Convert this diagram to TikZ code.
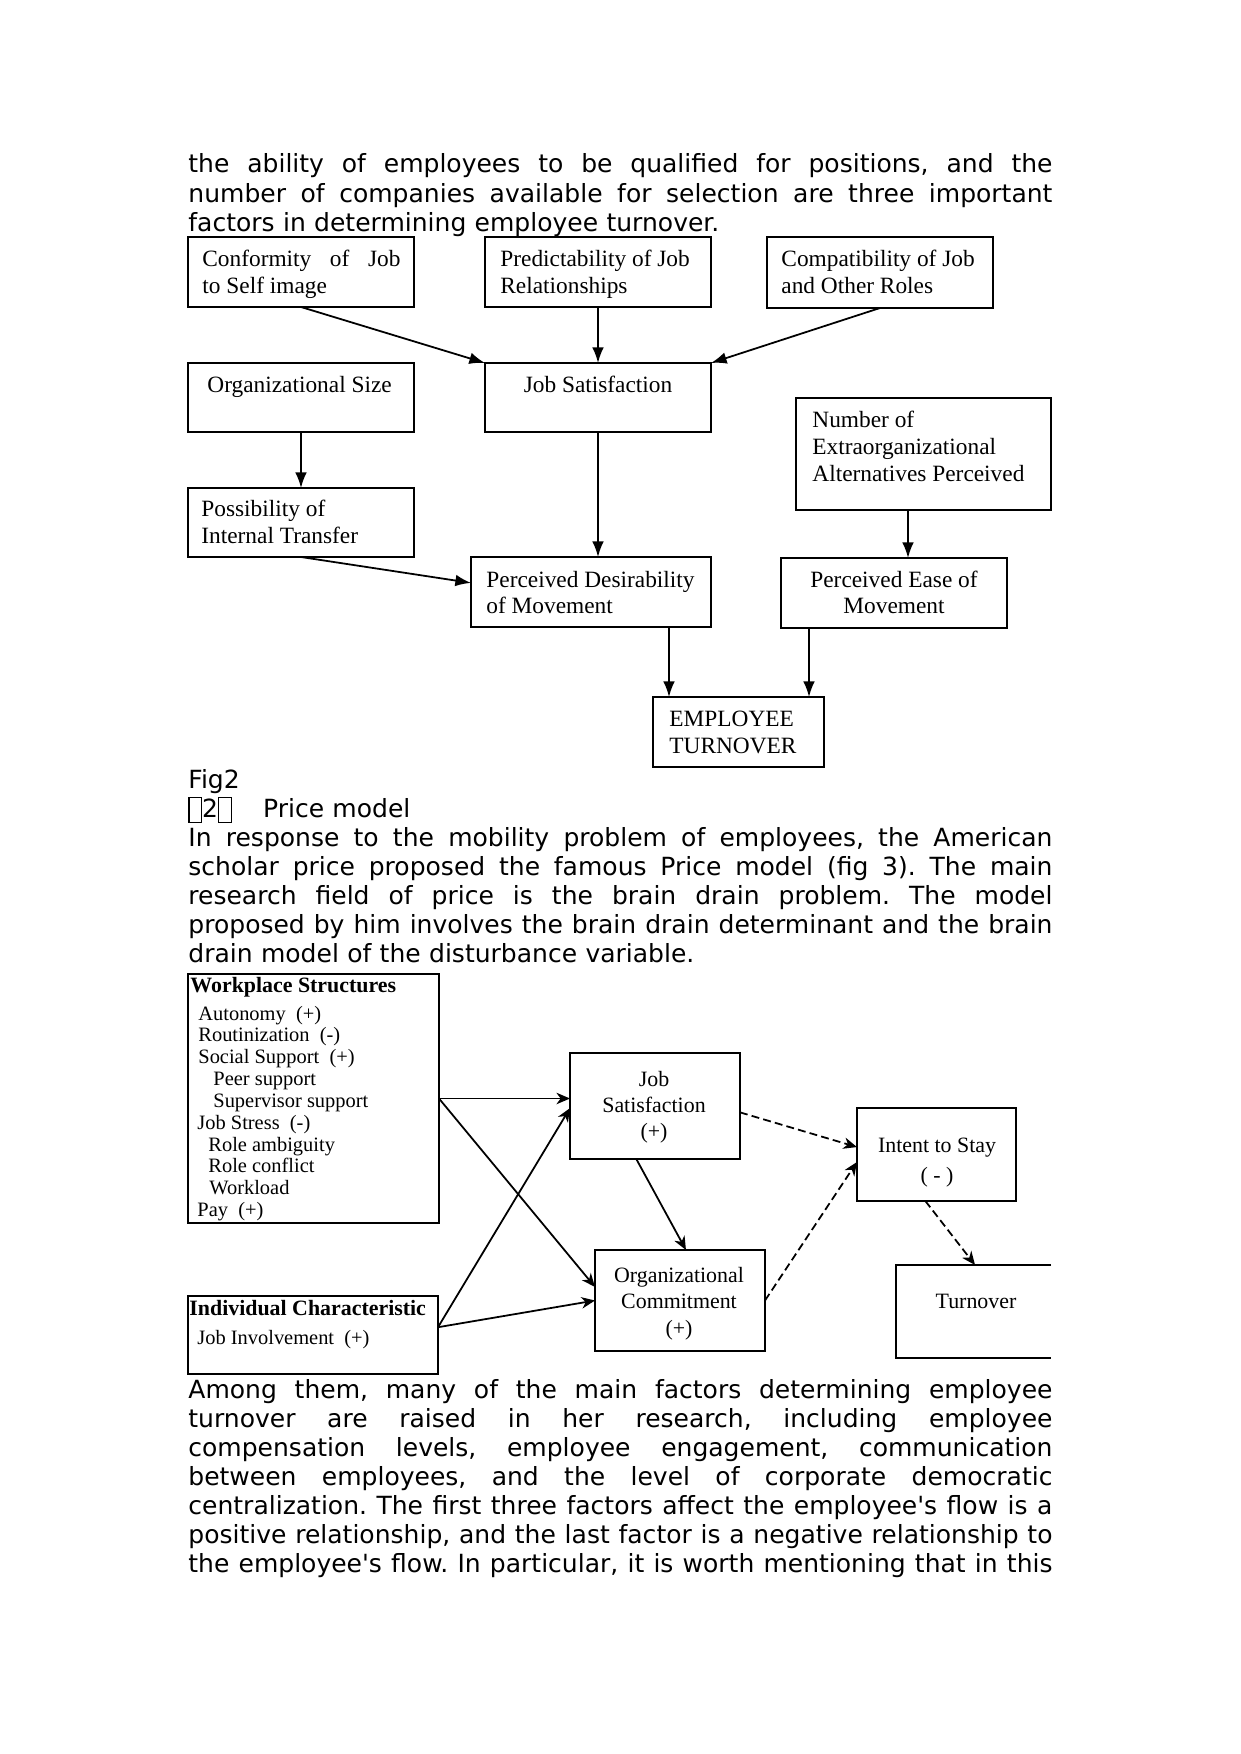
\documentclass[tikz,border=0pt]{standalone}
\usepackage{fontspec}
\setmainfont{DejaVu Sans}
\newfontfamily\tms{Liberation Serif}
\usetikzlibrary{arrows.meta,calc}
\newcommand\tofubox{{\setlength{\fboxsep}{0pt}\setlength{\fboxrule}{0.6pt}\raisebox{-0.18em}{\fbox{\rule{0pt}{0.95em}\hspace{0.45em}}}}}
\newcommand\aps{\textquotesingle}
\newcommand\jl[1]{\leavevmode\hbox to 414.5pt{\spaceskip=0.318em plus 2em minus 0.05em\xspaceskip=\spaceskip #1}}
\newcommand\mkbox[6][bx]{\node[#1,anchor=north west,minimum width={(#5-#3)*0.4797pt},minimum height={(#6-#4)*0.4797pt}] (#2) at (#3,#4) {};}
\frenchspacing
\begin{document}
\begin{tikzpicture}[x=0.4797pt,y=-0.4797pt,
  bx/.style={draw, line width=0.95pt, inner sep=0pt, outer sep=0pt},
  bxb/.style={draw, line width=1.1pt, inner sep=0pt, outer sep=0pt},
  bxn/.style={inner sep=0pt, outer sep=0pt},
  body/.style={inner sep=0pt, anchor=base west, text width=414.5pt, font=\fontsize{12}{13.95}\selectfont\frenchspacing},
  fa/.style={inner sep=0pt, anchor=base west, font=\tms\fontsize{11.2}{13}\selectfont},
  fac/.style={fa, anchor=base},
  fb/.style={inner sep=0pt, anchor=base, font=\tms\fontsize{10.5}{12.5}\selectfont},
  fc/.style={inner sep=0pt, anchor=base west, font=\tms\fontsize{9.8}{10.5}\selectfont},
  fh/.style={inner sep=0pt, anchor=base west, font=\tms\bfseries\fontsize{10.5}{12.5}\selectfont},
  ar/.style={line width=0.85pt, -{Latex[length=7.5pt,width=5.6pt]}},
  br/.style={line width=0.85pt, -{Stealth[length=6.5pt,width=5.5pt,inset=2pt]}},
  dr/.style={br, dash pattern=on 3.8pt off 2pt},
]
\useasboundingbox (0,0) rectangle (1241,1754);

% ---------- body text ----------
\node[body] (p1) at (188,173) {\jl{the ability of employees to be qualified for positions, and the}\\
\jl{number of companies available for selection are three important}\\
factors in determining employee turnover.};

\node[body] (p2) at (188,788) {Fig2\\
\tofubox2\tofubox\hspace{15pt}Price model\\
\jl{In response to the mobility problem of employees, the American}\\
\jl{scholar price proposed the famous Price model (fig 3). The main}\\
\jl{research field of price is the brain drain problem. The model}\\
\jl{proposed by him involves the brain drain determinant and the brain}\\
drain model of the disturbance variable.};

\node[body] (p3) at (188,1398) {\jl{Among them, many of the main factors determining employee}\\
\jl{turnover are raised in her research, including employee}\\
\jl{compensation levels, employee engagement, communication}\\
\jl{between employees, and the level of corporate democratic}\\
\jl{centralization. The first three factors affect the employee\aps s flow is a}\\
\jl{positive relationship, and the last factor is a negative relationship to}\\
\jl{the employee\aps s flow. In particular, it is worth mentioning that in this}};

% ---------- figure 2 ----------
\mkbox{cf}{188}{237}{414}{307}
\mkbox{pr}{485}{237}{711}{307}
\mkbox{cp}{767}{237}{993}{308}
\mkbox{os}{188}{363}{414}{432}
\mkbox{jsa}{485}{363}{711}{432}
\mkbox{nb}{796}{398}{1051}{510}
\mkbox{po}{188}{488}{414}{557}
\mkbox{pd}{471}{557}{711}{627}
\mkbox{pe}{781}{558}{1007}{628}
\mkbox{et}{653}{697}{824}{767}

\node[fa] (tcf1) at (202,266.5) {\makebox[95pt][s]{Conformity of Job}};
\node[fa] (tcf2) at (202,293) {to Self image};
\node[fa] (tpr1) at (500,266.5) {Predictability of Job};
\node[fa] (tpr2) at (500,293) {Relationships};
\node[fa] (tcp1) at (781,266.5) {Compatibility of Job};
\node[fa] (tcp2) at (781,293) {and Other Roles};
\node[fa] (tos) at (207,392) {Organizational Size};
\node[fac] (tjsa) at (598,392) {Job Satisfaction};
\node[fa] (tnb1) at (812,427) {Number of};
\node[fa] (tnb2) at (812,454) {Extraorganizational};
\node[fa] (tnb3) at (812,481) {Alternatives Perceived};
\node[fa] (tpo1) at (201,516) {Possibility of};
\node[fa] (tpo2) at (201,543) {Internal Transfer};
\node[fa] (tpd1) at (486,587) {Perceived Desirability};
\node[fa] (tpd2) at (486,613) {of Movement};
\node[fac] (tpe1) at (894,587) {Perceived Ease of};
\node[fac] (tpe2) at (894,613) {Movement};
\node[fa] (tet1) at (669,726) {EMPLOYEE};
\node[fa] (tet2) at (669,753) {TURNOVER};

\coordinate (xa) at (908,0);
\coordinate (xb) at (669,0);
\coordinate (xc) at (809,0);
\draw[ar] (cf.south) -- (jsa.north west);
\draw[ar] (pr.south) -- (pr.south |- jsa.north);
\draw[ar] (cp.south) -- (jsa.north east);
\draw[ar] (os.south) -- (po.north);
\draw[ar] (jsa.south) -- (jsa.south |- pd.north);
\draw[ar] (po.south) -- ($(pd.north west)!0.37!(pd.south west)$);
\draw[ar] (nb.south -| xa) -- (pe.north -| xa);
\draw[ar] (pd.south -| xb) -- (et.north -| xb);
\draw[ar] (pe.south -| xc) -- (et.north -| xc);

% ---------- figure 3 ----------
\mkbox[bxb]{ws}{188}{974}{439}{1223}
\mkbox[bxb]{js}{570}{1053}{740}{1159}
\mkbox[bxb]{it}{857}{1108}{1016}{1201}
\mkbox[bxb]{oc}{595}{1250}{765}{1351}
\mkbox[bxn]{to}{896}{1265}{1051}{1358}
\mkbox[bxb]{ic}{188}{1296}{438}{1374}
\draw[line width=1.1pt] (to.north east) -- (to.north west) -- (to.south west) -- (to.south east);

\node[fh] (tws) at (190,992) {Workplace Structures};
\node[fc] (w1) at (198,1020) {Autonomy\hspace{0.5em}(+)};
\node[fc] (w2) at (198,1041.85) {Routinization\hspace{0.5em}(-)};
\node[fc] (w3) at (198,1063.7) {Social Support\hspace{0.5em}(+)};
\node[fc] (w4) at (213,1085.55) {Peer support};
\node[fc] (w5) at (213,1107.4) {Supervisor support};
\node[fc] (w6) at (197,1129.25) {Job Stress\hspace{0.5em}(-)};
\node[fc] (w7) at (208,1151.1) {Role ambiguity};
\node[fc] (w8) at (208,1172.95) {Role conflict};
\node[fc] (w9) at (209,1194.8) {Workload};
\node[fc] (w10) at (197,1216.65) {Pay\hspace{0.5em}(+)};

\node[fb] (tjs1) at (654,1086) {Job};
\node[fb] (tjs2) at (654,1112) {Satisfaction};
\node[fb] (tjs3) at (654,1138) {(+)};
\node[fb] (tit1) at (937,1152) {Intent to Stay};
\node[fb] (tit2) at (937,1182) {( - )};
\node[fb] (toc1) at (679,1282) {Organizational};
\node[fb] (toc2) at (679,1308) {Commitment};
\node[fb] (toc3) at (679,1335) {(+)};
\node[fb] (tto) at (976,1308) {Turnover};
\node[fh] (tic) at (189,1315) {Individual Characteristic};
\node[fc] (tic2) at (197,1344) {Job Involvement\hspace{0.5em}(+)};

\coordinate (icp) at ($(ic.north east)!0.4!(ic.south east)$);
\draw[br] (ws.east) -- (ws.east -| js.west);
\draw[br] (ws.east) -- ($(oc.north west)!0.366!(oc.south west)$);
\draw[br] (icp) -- ($(js.north west)!0.52!(js.south west)$);
\draw[br] (icp) -- (oc.west);
\draw[br] ($(js.south west)!0.39!(js.south east)$) -- ($(oc.north west)!0.535!(oc.north east)$);
\draw[dr] ($(js.north east)!0.56!(js.south east)$) -- ($(it.north west)!0.42!(it.south west)$);
\draw[dr] (oc.east) -- ($(it.north west)!0.58!(it.south west)$);
\draw[dr] ($(it.south west)!0.43!(it.south east)$) -- ($(to.north west)!0.51!(to.north east)$);
\end{tikzpicture}
\end{document}
